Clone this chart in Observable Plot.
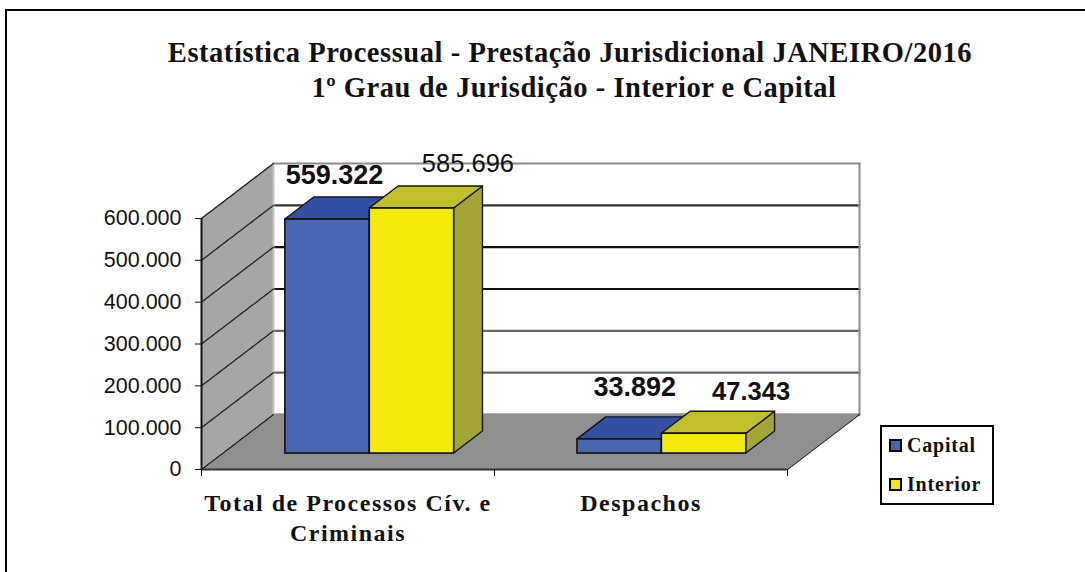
<!DOCTYPE html>
<html lang="pt">
<head>
<meta charset="utf-8">
<script src="https://cdn.jsdelivr.net/npm/d3@7"></script>
<script src="https://cdn.jsdelivr.net/npm/@observablehq/plot@0.6"></script>
<style>
html,body{margin:0;padding:0;background:#fff;overflow:hidden}
#page{position:relative;width:1085px;height:572px;overflow:hidden}
#frame{position:absolute;left:5px;top:9px;right:-4px;bottom:-4px;border-left:2px solid #000;border-top:2px solid #000}
#title{position:absolute;left:0;top:0;width:1140px;height:108px;text-align:center;font:bold 28.5px/35px "Liberation Serif",serif;color:#111;padding-top:35px;box-sizing:border-box;letter-spacing:.55px}
#title span{position:relative;left:4px}
#chart{position:absolute;left:0;top:108px}
#legend{position:absolute;left:880px;top:425px;width:110px;height:76px;border:2px solid #000;box-sizing:content-box;font:bold 20px "Liberation Serif",serif;letter-spacing:.8px;color:#111;background:#fff}
#legend div{position:absolute;left:7px;display:flex;align-items:center;line-height:20px}
#legend i{display:inline-block;width:9px;height:9px;border:2px solid #000;margin-right:5px}
svg [aria-label="x-axis tick label"] text{letter-spacing:1.5px}
</style>
</head>
<body>
<div id="page">
<div id="frame"></div>
<div id="title">Estatística Processual - Prestação Jurisdicional JANEIRO/2016<br><span>1º Grau de Jurisdição - Interior e Capital</span></div>
<div id="chart"></div>
<div id="legend"></div>
</div>
<script>
const categories = ["Total de Processos Cív. e\nCriminais", "Despachos"];
const seriesNames = ["Capital", "Interior"];
const capitalValues = [559322, 33892];
const interiorValues = [585696, 47343];
const yTicks = [0, 100000, 200000, 300000, 400000, 500000, 600000];

// oblique projection of the 3D box, in data units
const depthX = 0.2457, depthY = 131474;
const wallDepth = 1, barDepthFront = 0.29, barDepthBack = 0.69;
const barWidth = 0.288;
const px = (x, d) => x + d * depthX;
const py = (v, d) => v + d * depthY;

const bars = [];
categories.forEach((c, i) => {
  const start = i + 0.215 - (i === 0 ? 0 : 0.003);
  bars.push({s: 0, x1: start, x2: start + barWidth, v: capitalValues[i]});
  bars.push({s: 1, x1: start + barWidth, x2: start + 2 * barWidth, v: interiorValues[i]});
});

const faceFront = ["#4767b1", "#f5ea0d"];
const faceTop = ["#3350a3", "#c0c02d"];
const faceSide = ["#2f4a94", "#a3a537"];

const gridStroke = v => v === 600000 ? "#8a8a8a" : v === 500000 ? "#333" : v >= 300000 ? "#111" : "#666";

const marks = [];

// back wall grid lines
for (const v of yTicks) {
  marks.push(Plot.line([{x: px(0, wallDepth), y: py(v, wallDepth)}, {x: px(2, wallDepth), y: py(v, wallDepth)}],
    {x: "x", y: "y", stroke: gridStroke(v), strokeWidth: 2.2}));
}
// back wall right edge
marks.push(Plot.line([{x: px(2, wallDepth), y: py(0, wallDepth)}, {x: px(2, wallDepth), y: py(600000, wallDepth)}],
  {x: "x", y: "y", stroke: "#8a8a8a", strokeWidth: 2}));

// floor
marks.push(Plot.areaX([
  {y: py(0, 0), x1: px(0, 0), x2: px(2, 0)},
  {y: py(0, wallDepth), x1: px(0, wallDepth), x2: px(2, wallDepth)}
], {y: "y", x1: "x1", x2: "x2", fill: "#8f8f8f", curve: "linear"}));
marks.push(Plot.line([{x: px(2, 0), y: py(0, 0)}, {x: px(2, wallDepth), y: py(0, wallDepth)}],
  {x: "x", y: "y", stroke: "#333", strokeWidth: 1.2}));

// left wall
marks.push(Plot.areaY([
  {x: px(0, 0), y1: py(0, 0), y2: py(600000, 0)},
  {x: px(0, wallDepth), y1: py(0, wallDepth), y2: py(600000, wallDepth)}
], {x: "x", y1: "y1", y2: "y2", fill: "#a6a6a6", curve: "linear"}));
marks.push(Plot.line([{x: px(0, wallDepth), y: py(0, wallDepth)}, {x: px(0, wallDepth), y: py(600000, wallDepth)}],
  {x: "x", y: "y", stroke: "#c4c4c4", strokeWidth: 2}));
for (const v of yTicks) {
  marks.push(Plot.line([{x: px(0, 0), y: py(v, 0)}, {x: px(0, wallDepth), y: py(v, wallDepth)}],
    {x: "x", y: "y", stroke: "#222", strokeWidth: 1.3, strokeDasharray: "5 1"}));
}

// bars
for (const b of bars) {
  const d0 = barDepthFront, d1 = barDepthBack;
  const st = {stroke: "#151515", strokeWidth: 1.4, curve: "linear"};
  marks.push(Plot.areaY([
    {x: px(b.x2, d0), y1: py(0, d0), y2: py(b.v, d0)},
    {x: px(b.x2, d1), y1: py(0, d1), y2: py(b.v, d1)}
  ], {x: "x", y1: "y1", y2: "y2", fill: faceSide[b.s], ...st}));
  marks.push(Plot.areaX([
    {y: py(b.v, d0), x1: px(b.x1, d0), x2: px(b.x2, d0)},
    {y: py(b.v, d1), x1: px(b.x1, d1), x2: px(b.x2, d1)}
  ], {y: "y", x1: "x1", x2: "x2", fill: faceTop[b.s], ...st}));
  marks.push(Plot.rect([b], {
    x1: d => px(d.x1, d0), x2: d => px(d.x2, d0),
    y1: () => py(0, d0), y2: d => py(d.v, d0),
    fill: faceFront[b.s], stroke: "#111", strokeWidth: 1.6
  }));
}

// value labels
const fmt = v => d3.format(",")(v).replace(/,/g, ".");
const labelFont = {fontFamily: "Liberation Sans, Arial, sans-serif", fill: "#111", textAnchor: "middle"};
const valueLabel = (b, dx, dy, size, weight) => Plot.text([b], {
  x: d => px((d.x1 + d.x2) / 2, barDepthFront), y: d => py(d.v, barDepthFront), text: d => fmt(d.v),
  dx, dy, fontSize: size, fontWeight: weight, ...labelFont
});
marks.push(valueLabel(bars[0], 7, -44, 27, "bold"));
marks.push(valueLabel(bars[1], 56, -45, 25.5, "normal"));
marks.push(valueLabel(bars[2], 15, -52, 27, "bold"));
marks.push(valueLabel(bars[3], 47, -42, 25.5, "bold"));

// axes
marks.push(Plot.ruleX([0], {y1: 0, y2: 600000, stroke: "#111", strokeWidth: 2}));
marks.push(Plot.ruleY([0], {x1: 0, x2: 2, stroke: "#333", strokeWidth: 2}));
marks.push(Plot.axisY({
  ticks: yTicks, tickSize: 6, tickPadding: 14, label: null,
  tickFormat: fmt, fontSize: 21.5, fontFamily: "Liberation Sans, Arial, sans-serif", fill: "#111", stroke: "#111"
}));
marks.push(Plot.axisX({ticks: [0, 1, 2], tickSize: 7, tickFormat: () => "", label: null, stroke: "#111"}));
marks.push(Plot.axisX({
  ticks: [0.5, 1.5], tickSize: 0, tickPadding: 20, label: null,
  tickFormat: d => categories[Math.floor(d)],
  fontSize: 24, fontWeight: "bold", fontFamily: "Liberation Serif, serif", fill: "#111",
  lineHeight: 1.25
}));

const svg = Plot.plot({
  width: 1085, height: 464,
  marginLeft: 201, marginRight: 298, marginTop: 110, marginBottom: 103,
  style: {background: "transparent", overflow: "visible"},
  x: {type: "linear", domain: [0, 2]},
  y: {type: "linear", domain: [0, 600000]},
  marks
});
document.getElementById("chart").appendChild(svg);

const legend = document.getElementById("legend");
seriesNames.forEach((n, i) => {
  const row = document.createElement("div");
  row.style.top = (i === 0 ? 8 : 47) + "px";
  const sw = document.createElement("i");
  sw.style.background = faceFront[i];
  row.appendChild(sw);
  row.appendChild(document.createTextNode(n));
  legend.appendChild(row);
});
</script>
</body>
</html>
